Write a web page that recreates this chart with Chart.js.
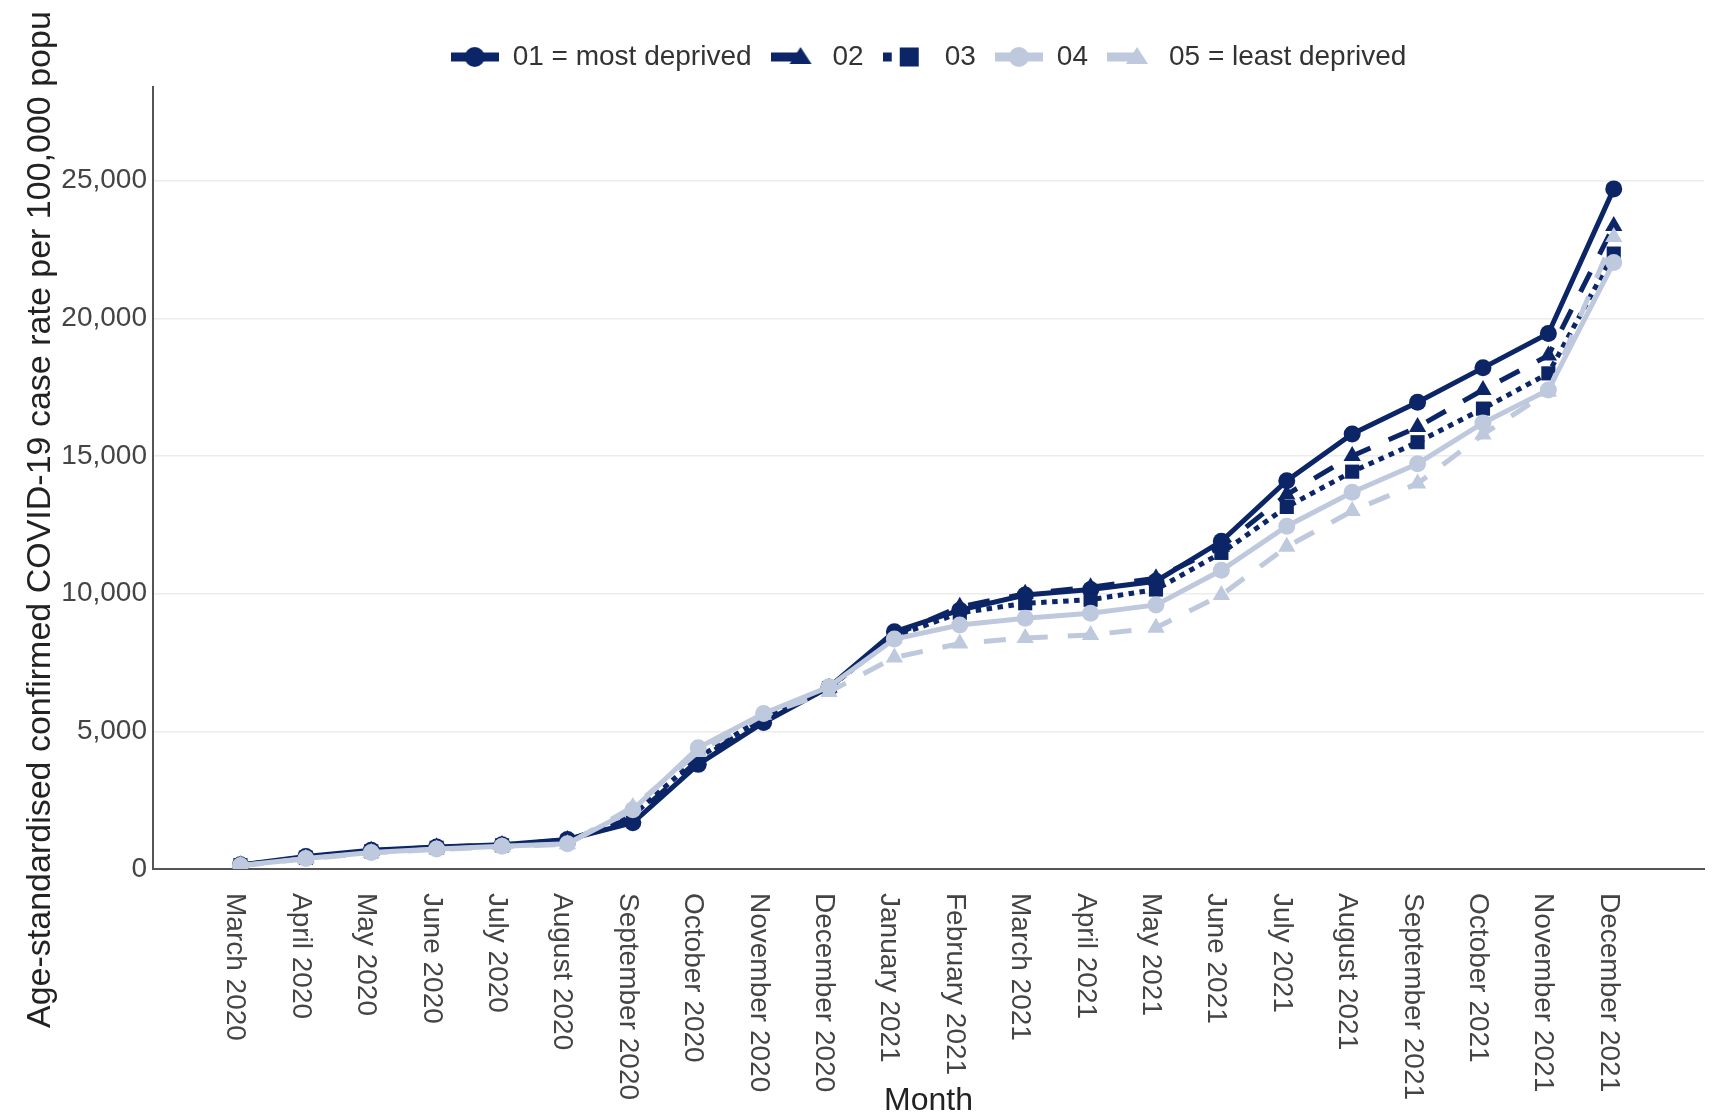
<!DOCTYPE html>
<html><head><meta charset="utf-8">
<script src="https://cdn.jsdelivr.net/npm/chart.js@4.4.1/dist/chart.umd.min.js"></script>
<style>html,body{margin:0;padding:0;background:#fff;}canvas{display:block;}</style>
</head><body>
<canvas id="c" width="1714" height="1114"></canvas>
<script>
// ---- data ----
const months = ['March 2020','April 2020','May 2020','June 2020','July 2020','August 2020','September 2020','October 2020','November 2020','December 2020','January 2021','February 2021','March 2021','April 2021','May 2021','June 2021','July 2021','August 2021','September 2021','October 2021','November 2021','December 2021'];
const seriesNames = ['01 = most deprived','02','03','04','05 = least deprived'];
const q01 = [150, 450, 680, 800, 880, 1070, 1680, 3800, 5320, 6600, 8620, 9400, 9950, 10150, 10450, 11900, 14100, 15800, 16950, 18200, 19450, 24700];
const q02 = [140, 420, 660, 790, 870, 1050, 1850, 3950, 5450, 6580, 8500, 9520, 10000, 10230, 10560, 11700, 13600, 15000, 16050, 17400, 18650, 23350];
const q03 = [140, 410, 640, 770, 860, 1000, 1950, 4050, 5500, 6570, 8450, 9300, 9650, 9780, 10150, 11480, 13150, 14430, 15500, 16720, 18000, 22350];
const q04 = [130, 380, 600, 730, 830, 920, 2150, 4400, 5650, 6620, 8350, 8860, 9110, 9290, 9590, 10850, 12450, 13680, 14720, 16200, 17400, 22030];
const q05 = [120, 370, 580, 710, 810, 900, 2250, 4250, 5600, 6430, 7680, 8190, 8390, 8500, 8760, 9950, 11700, 13000, 14000, 15780, 17330, 22950];
const yTicks = [0, 5000, 10000, 15000, 20000, 25000];
const yTitle = 'Age-standardised confirmed COVID-19 case rate per 100,000 popu';
const xTitle = 'Month';

// ---- styles ----
const DARK = '#0b2566', LIGHT = '#bfc9dd';
const FONT = "'Liberation Sans', Arial, sans-serif";
const styles = [
  {color: DARK,  dash: [],         point: 'circle',   r: 8.5},
  {color: DARK,  dash: [22, 20],   point: 'triangle', r: 10},
  {color: DARK,  dash: [5.5, 5.5], point: 'rect',     r: 10},
  {color: LIGHT, dash: [],         point: 'circle',   r: 8.5},
  {color: LIGHT, dash: [22, 20],   point: 'triangle', r: 10}
];
const allSeries = [q01, q02, q03, q04, q05];

function legendIcon(st) {
  const c = document.createElement('canvas');
  c.width = 48; c.height = 26;
  const g = c.getContext('2d');
  g.fillStyle = st.color;
  const cy = 13;
  if (st.point === 'circle') {
    g.fillRect(0, cy - 4.5, 48, 9);
    g.beginPath(); g.arc(24, cy, 10, 0, 2 * Math.PI); g.fill();
  } else if (st.point === 'triangle') {
    g.fillRect(0, cy - 4.5, 30, 9);
    g.beginPath(); g.moveTo(30, cy - 10); g.lineTo(41, cy + 7); g.lineTo(19, cy + 7); g.closePath(); g.fill();
  } else {
    g.fillRect(0, cy - 4.5, 9, 9);
    g.fillRect(17, cy - 9.5, 19, 19);
  }
  return c;
}
const icons = styles.map(legendIcon);

const datasets = allSeries.map((vals, k) => ({
  label: seriesNames[k],
  data: vals.map((v, i) => ({x: i, y: v})),
  borderColor: styles[k].color,
  backgroundColor: styles[k].color,
  borderWidth: 5,
  borderDash: styles[k].dash,
  borderCapStyle: 'butt',
  pointStyle: styles[k].point,
  pointRadius: styles[k].r,
  pointBorderWidth: 0,
  pointBackgroundColor: styles[k].color,
  tension: 0,
  order: 4 - k
}));

const extrasPlugin = {
  id: 'extras',
  beforeLayout(chart) {
    const lg = chart.legend;
    if (lg && !lg._patched) {
      const f = lg.fit;
      lg.fit = function () { f.call(this); this.height += 6; };
      lg._patched = true;
    }
  },
  afterDraw(chart) {
    const ctx = chart.ctx, xs = chart.scales.x, area = chart.chartArea;
    ctx.save();
    ctx.font = '28px ' + FONT;
    ctx.fillStyle = '#444';
    ctx.textAlign = 'left';
    ctx.textBaseline = 'alphabetic';
    months.forEach((m, i) => {
      const px = xs.getPixelForValue(i);
      ctx.save();
      ctx.translate(px - 13, xs.top + 24);
      ctx.rotate(Math.PI / 2);
      ctx.fillText(m, 0, 0);
      ctx.restore();
    });
    ctx.font = '34px ' + FONT;
    ctx.fillStyle = '#222';
    ctx.translate(50, area.bottom + 159);
    ctx.rotate(-Math.PI / 2);
    ctx.fillText(yTitle, 0, 0);
    ctx.restore();
  }
};

new Chart(document.getElementById('c'), {
  type: 'line',
  data: {datasets},
  plugins: [extrasPlugin],
  options: {
    responsive: false,
    animation: false,
    devicePixelRatio: 1,
    layout: {padding: {top: 24, right: 9, left: 0, bottom: 0}},
    plugins: {
      tooltip: {enabled: false},
      legend: {
        position: 'top',
        fullSize: false,
        align: 'center',
        labels: {
          usePointStyle: true,
          pointStyleWidth: 48,
          padding: 19,
          color: '#333',
          font: {family: FONT, size: 28},
          generateLabels(chart) {
            const items = Chart.defaults.plugins.legend.labels.generateLabels(chart);
            items.sort((a, b) => a.datasetIndex - b.datasetIndex);
            items.forEach(it => { it.pointStyle = icons[it.datasetIndex]; it.lineWidth = 0; it.fontColor = '#333'; });
            return items;
          }
        }
      }
    },
    scales: {
      x: {
        type: 'linear',
        min: -1.337,
        max: 22.38,
        grid: {display: false},
        border: {display: true, color: '#555', width: 2},
        ticks: {display: false},
        title: {display: true, text: xTitle, color: '#222', font: {family: FONT, size: 32, lineHeight: 0.8}, padding: {top: 0, bottom: 0}},
        afterFit(scale) { scale.height = 245; }
      },
      y: {
        min: 0,
        max: 28400,
        afterBuildTicks(scale) { scale.ticks = yTicks.map(v => ({value: v})); },
        grid: {color: '#ececec', lineWidth: 1.5, drawTicks: false},
        border: {display: true, color: '#555', width: 2},
        ticks: {
          padding: 6,
          color: '#444',
          font: {family: FONT, size: 28},
          callback: v => v.toLocaleString('en-US')
        },
        afterFit(scale) { scale.width = 153; }
      }
    }
  }
});
</script>
</body></html>
